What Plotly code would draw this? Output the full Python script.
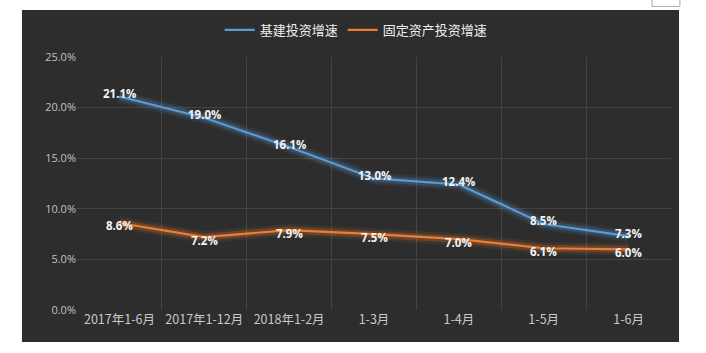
import plotly.graph_objects as go

categories = ["2017年1-6月", "2017年1-12月", "2018年1-2月", "1-3月", "1-4月", "1-5月", "1-6月"]
infra = [21.1, 19.0, 16.1, 13.0, 12.4, 8.5, 7.3]
fixed = [8.6, 7.2, 7.9, 7.5, 7.0, 6.1, 6.0]
series_names = ["基建投资增速", "固定资产投资增速"]
y_ticks = [0, 5, 10, 15, 20, 25]

BLUE = "#5b9bd5"
ORANGE = "#ed7d31"
BG = "#2d2d2d"
FONT = "Noto Sans CJK SC"

xs = list(range(len(categories)))
fig = go.Figure()

for vals, glow in [(infra, "rgba(91,155,213,"), (fixed, "rgba(237,125,49,")]:
    for w, a in [(12, 0.10), (7, 0.22)]:
        fig.add_trace(go.Scatter(x=xs, y=vals, mode="lines", line=dict(color=glow + f"{a})", width=w),
                                 showlegend=False, hoverinfo="skip"))

for vals, col, name in [(infra, BLUE, series_names[0]), (fixed, ORANGE, series_names[1])]:
    fig.add_trace(go.Scatter(
        x=xs, y=vals, mode="lines", name=name,
        line=dict(color=col, width=2.2),
    ))

# data labels, centred on the points (nudged apart slightly so the close pair does not collide)
for vals, shift in [(infra, 3), (fixed, -3)]:
    for x, v in zip(xs, vals):
        fig.add_annotation(x=x, y=v, text=f"{v:.1f}%", showarrow=False, yshift=shift,
                           font=dict(color="#f4f4f4", size=11.5, family="Open Sans", weight="bold"),
                           borderpad=0)

fig.add_shape(type="rect", xref="paper", yref="paper", x0=-0.0926, x1=1.0135, y0=-0.126, y1=1.186,
              fillcolor=BG, line=dict(width=0), layer="below")
fig.add_shape(type="rect", xref="paper", yref="paper", x0=0.968, x1=1.015, y0=1.2, y1=1.235,
              fillcolor="white", line=dict(color="#aaaaaa", width=1), layer="below")

fig.update_layout(
    width=706, height=353,
    margin=dict(l=77, r=35, t=57, b=43),
    paper_bgcolor="white", plot_bgcolor=BG,
    font=dict(family=FONT, color="#c0c0c0", size=11),
    showlegend=True,
    legend=dict(orientation="h", x=0.47, xanchor="center", y=1.107, yanchor="middle",
                font=dict(color="#eeeeee", size=13, family=FONT), bgcolor="rgba(0,0,0,0)",
                itemwidth=30, tracegroupgap=0),
    xaxis=dict(range=[-0.5, len(categories) - 0.5], tickvals=xs, ticktext=categories,
               showgrid=False, zeroline=False, showline=False, ticks="",
               tickfont=dict(color="#c8c8c8", size=12.5, family=FONT),
               minor=dict(tick0=-0.5, dtick=1, showgrid=True, gridcolor="#444444", gridwidth=1, ticks="")),
    yaxis=dict(range=[0, 25], tickvals=y_ticks, ticktext=[f"{v:.1f}%" for v in y_ticks],
               showgrid=True, gridcolor="#444444", gridwidth=1, zeroline=False, showline=False,
               ticks="", ticklen=0, tickfont=dict(color="#c0c0c0", size=11, family="Open Sans")),
)

fig.write_html("out.html")
